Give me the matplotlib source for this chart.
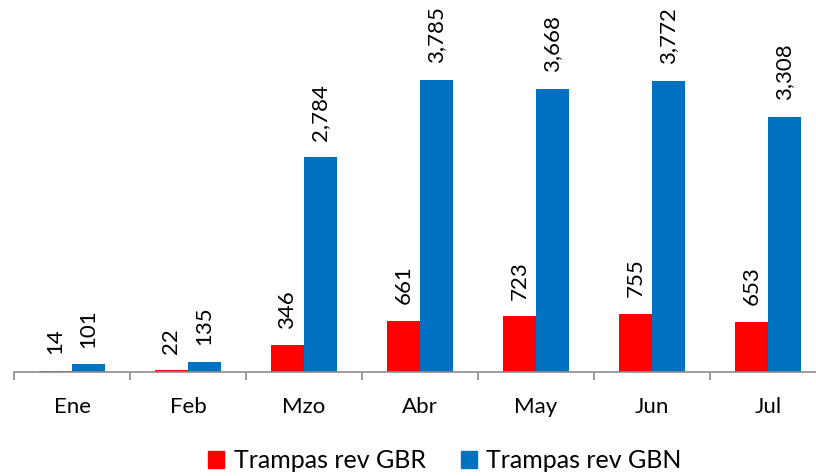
import matplotlib.pyplot as plt
import numpy as np
from matplotlib.patches import Patch

plt.rcParams['font.family'] = ['Lato', 'DejaVu Sans']

# Data
months = ['Ene', 'Feb', 'Mzo', 'Abr', 'May', 'Jun', 'Jul']
gbr = [14, 22, 346, 661, 723, 755, 653]
gbn = [101, 135, 2784, 3785, 3668, 3772, 3308]

red = '#ff0000'
blue = '#0070c0'

fig = plt.figure(figsize=(8.16, 4.76), dpi=100)
# axes starts at x=14px; right edge runs past the image like the original crop
ax = fig.add_axes([14 / 816, 104 / 476, 802 / 816, 372 / 476])

x = np.arange(len(months))
w = 0.285
ax.bar(x - w / 2, gbr, w, color=red, label='Trampas rev GBR')
ax.bar(x + w / 2, gbn, w, color=blue, label='Trampas rev GBN')

for xi, v in zip(x, gbr):
    ax.annotate(f'{v:,}', (xi - w / 2, v), xytext=(0, 12), textcoords='offset points',
                rotation=90, ha='center', va='bottom', fontsize=16)
for xi, v in zip(x, gbn):
    ax.annotate(f'{v:,}', (xi + w / 2, v), xytext=(0, 12), textcoords='offset points',
                rotation=90, ha='center', va='bottom', fontsize=16)

for s in ['top', 'right', 'left']:
    ax.spines[s].set_visible(False)
ax.spines['bottom'].set_color('#8c8c8c')
ax.spines['bottom'].set_linewidth(1.2)

ax.set_yticks([])
ax.set_xticks(np.arange(-0.5, 7, 1))
ax.set_xticklabels([])
ax.set_xticks(x, minor=True)
ax.set_xticklabels(months, minor=True, fontsize=16)
ax.tick_params(axis='x', which='major', direction='out', length=6, width=1.2, color='#8c8c8c')
ax.tick_params(axis='x', which='minor', length=0, pad=18)

# limits after ticks so set_xticks does not widen them
ax.set_xlim(-0.5, -0.5 + 802 / 116)
ax.set_ylim(0, 4822)

handles = [Patch(color=red, label='Trampas rev GBR'), Patch(color=blue, label='Trampas rev GBN')]
fig.legend(handles=handles, loc='center', bbox_to_anchor=(0.545, 15 / 476), ncol=2, frameon=False,
           fontsize=18, handlelength=0.64, handleheight=0.64, handletextpad=0.38, columnspacing=1.4,
           borderaxespad=0, borderpad=0)

plt.savefig('out.png', dpi=100)
